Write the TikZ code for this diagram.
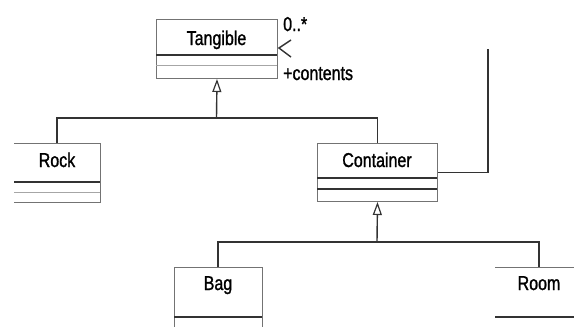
\documentclass[tikz,border=0pt]{standalone}
\usepackage{fontspec}
\setmainfont{Liberation Sans}[FakeStretch=0.8, FakeBold=1.2]
\usetikzlibrary{arrows.meta}
\begin{document}
\begin{tikzpicture}[x=1pt,y=-1pt,
  frame/.style={draw=black!55, line width=1pt},
  classbox/.style={frame, inner sep=0pt, anchor=north west},
  dark/.style={draw=black!80, line width=1.4pt},
  light/.style={draw=black!35, line width=1pt},
  edge/.style={draw=black!80, line width=1.4pt},
  gen/.style={edge, -{Triangle[open, length=13pt, width=9pt, line width=1.2pt]}},
  lbl/.style={font=\fontsize{20}{22}\selectfont, inner sep=0pt, anchor=base},
  tag/.style={font=\fontsize{20}{22}\selectfont, inner sep=0pt, anchor=base west}]
\useasboundingbox (0,0) rectangle (574,327);
% Tangible
\node[classbox, minimum width=121pt, minimum height=59pt] (tangible) at (156,19) {};
\node[lbl] (tangiblename) at (216.5,45) {Tangible};
\draw[dark] (156,55) -- (277,55);
\draw[light] (156,65) -- (277,65);
% Rock (left edge cut)
\draw[frame] (14,143) -- (100,143) -- (100,202) -- (14,202);
\draw[dark] (14,182) -- (100,182);
\draw[light] (14,192) -- (100,192);
\coordinate (rock) at (57,143);
\node[lbl] (rockname) at (57,167) {Rock};
% Container
\node[classbox, minimum width=120pt, minimum height=58pt] (container) at (317,143) {};
\node[lbl] (containername) at (377,167) {Container};
\draw[dark] (317,178) -- (437,178);
\draw[dark] (317,189) -- (437,189);
% Bag
\draw[frame] (174,327) -- (174,267) -- (262,267) -- (262,327);
\draw[dark] (174,317) -- (262,317);
\coordinate (bag) at (218,267);
\node[lbl] (bagname) at (218,290) {Bag};
% Room (cut)
\draw[frame] (495,267) -- (574,267);
\draw[dark] (495,317) -- (574,317);
\coordinate (room) at (539,267);
\node[lbl] (roomname) at (539,290) {Room};
% generalizations
\coordinate (j1) at (216.5,118);
\draw[edge] (rock) |- (j1) -| (container.north);
\draw[gen] (j1) -- (tangible.south);
\coordinate (j2) at (377,242);
\draw[edge] (bag) |- (j2) -| (room);
\draw[gen] (j2) -- (container.south);
% association
\coordinate (assocend) at (488,49);
\draw[edge] (container.east) -| (assocend);
\coordinate (navtip) at (279,48);
\coordinate (navup) at (291,40);
\coordinate (navdown) at (291,57);
\draw[edge] (navup) -- (navtip) -- (navdown);
\node[tag] (mult) at (283,31) {0..*};
\node[tag] (role) at (283,80) {+contents};
\end{tikzpicture}
\end{document}
